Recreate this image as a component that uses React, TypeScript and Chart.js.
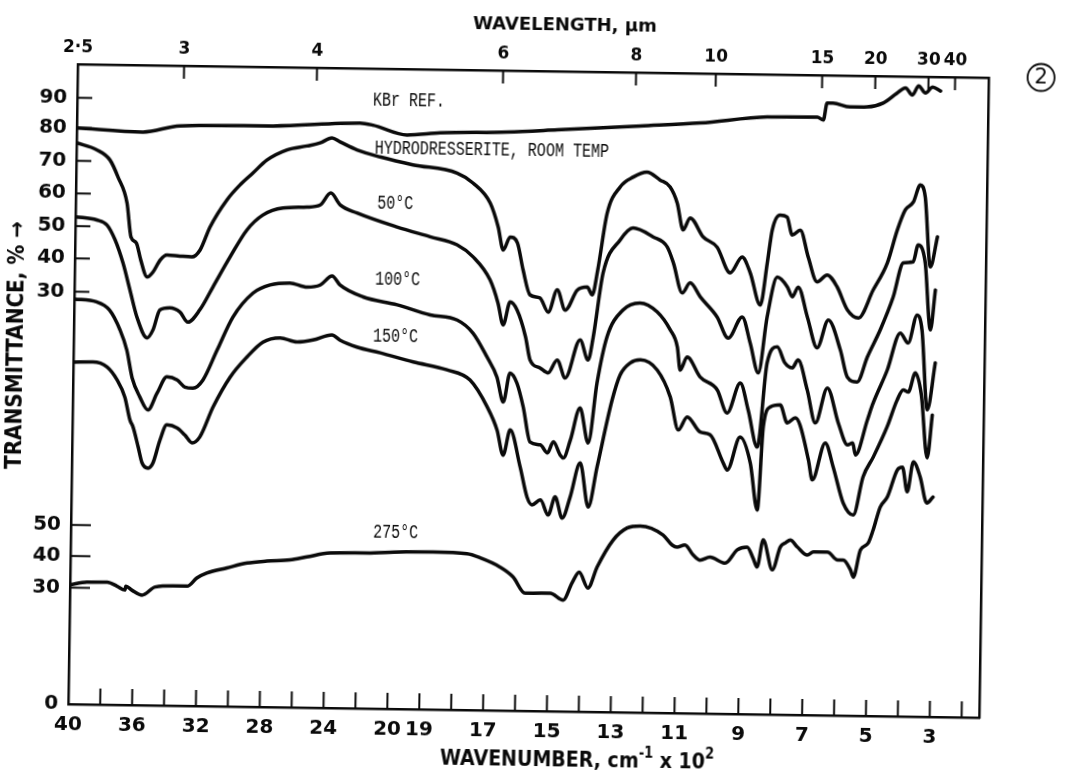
import React, { useEffect, useRef } from "react";
import { Chart, registerables } from "chart.js";

Chart.register(...registerables);

// ---- DATA (x: wavenumber in cm^-1, y: chart ordinate in transmittance-axis units) ----
const kbrReference: [number, number][] = [
  [4000, 180.1], [3585, 179.1], [3354, 181.2], [2770, 181.6], [2226, 182.9], [2144, 182.3],
  [1965, 179.4], [1861, 180.2], [1651, 180.8], [1494, 181.7], [1234, 183.3], [1046, 184.5],
  [837, 186.7], [680, 186.9], [661, 186.0], [650, 191.3], [631, 191.3], [578, 190.2],
  [524, 190.3], [474, 191.6], [432, 194.7], [405, 196.4], [383, 194.2], [364, 197.1],
  [342, 194.9], [320, 196.8], [295, 195.6],
];

const roomTemp: [number, number][] = [
  [4000, 175.4], [3872, 173.3], [3789, 170.2], [3737, 164.9], [3678, 156.8], [3650, 146.2],
  [3616, 144.4], [3587, 139.1], [3545, 133.8], [3509, 135.4], [3465, 139.2], [3423, 140.8],
  [3342, 140.5], [3267, 140.3], [3216, 142.5], [3156, 149.7], [3052, 158.3], [2972, 163.0],
  [2892, 166.8], [2806, 170.9], [2680, 174.2], [2556, 175.5], [2474, 176.5], [2400, 178.1],
  [2348, 176.9], [2242, 174.5], [2096, 172.4], [1945, 170.1], [1806, 167.7], [1756, 164.7],
  [1701, 158.5], [1675, 151.1], [1658, 143.9], [1637, 148.0], [1614, 146.2], [1595, 137.8],
  [1572, 130.0], [1541, 129.1], [1514, 124.7], [1487, 131.7], [1461, 125.4], [1424, 131.7],
  [1393, 132.7], [1377, 130.3], [1361, 138.1], [1334, 155.9], [1295, 164.1], [1254, 167.3],
  [1211, 168.9], [1170, 166.5], [1138, 164.4], [1115, 159.4], [1095, 151.0], [1074, 154.8],
  [1032, 148.9], [988, 145.8], [946, 137.8], [909, 142.8], [883, 137.9], [850, 127.9],
  [830, 141.1], [816, 151.4], [792, 156.1], [770, 155.5], [753, 149.9], [728, 151.5],
  [702, 143.1], [673, 135.4], [642, 137.6], [610, 133.9], [577, 126.8], [542, 124.3],
  [497, 133.1], [454, 141.6], [424, 152.0], [400, 158.3], [375, 160.8], [354, 166.2],
  [338, 162.4], [319, 140.6], [298, 150.0],
];

const temp50: [number, number][] = [
  [4000, 152.3], [3866, 151.4], [3802, 149.9], [3750, 145.3], [3698, 138.1], [3652, 129.7],
  [3606, 121.3], [3540, 114.8], [3504, 117.3], [3462, 123.6], [3400, 124.3], [3336, 123.0],
  [3286, 119.9], [3212, 123.8], [3132, 131.0], [3028, 140.4], [2924, 149.0], [2826, 153.7],
  [2700, 156.0], [2550, 156.4], [2468, 157.1], [2402, 160.9], [2342, 157.2], [2236, 154.8],
  [1992, 150.6], [1888, 147.7], [1803, 145.3], [1752, 141.6], [1698, 134.5], [1672, 127.3],
  [1655, 120.5], [1634, 127.7], [1612, 125.2], [1584, 116.8], [1569, 109.7], [1537, 107.2],
  [1512, 105.7], [1484, 109.8], [1458, 104.2], [1413, 116.2], [1387, 109.9], [1372, 117.1],
  [1344, 137.2], [1292, 147.6], [1252, 151.4], [1189, 148.7], [1144, 145.6], [1124, 140.6],
  [1095, 131.3], [1071, 134.5], [1038, 130.1], [985, 124.0], [949, 117.4], [906, 124.1],
  [880, 116.0], [853, 106.7], [828, 124.2], [798, 136.7], [766, 133.7], [750, 130.6],
  [732, 133.7], [702, 124.4], [670, 114.8], [636, 123.5], [597, 114.2], [574, 105.8],
  [543, 104.3], [512, 112.2], [473, 120.7], [434, 131.0], [404, 141.7], [373, 142.1],
  [358, 147.4], [335, 141.8], [316, 120.9], [302, 133.4],
];

const temp100: [number, number][] = [
  [4000, 126.6], [3860, 125.8], [3778, 123.3], [3710, 117.1], [3666, 110.9], [3630, 102.2],
  [3580, 96.3], [3528, 92.3], [3472, 97.6], [3412, 102.7], [3348, 101.8], [3298, 99.6],
  [3248, 99.3], [3186, 101.9], [3100, 111.3], [3004, 121.7], [2880, 129.3], [2774, 131.9],
  [2650, 132.6], [2542, 131.4], [2460, 132.1], [2386, 135.0], [2336, 132.2], [2190, 128.6],
  [1988, 126.3], [1884, 123.3], [1799, 121.8], [1749, 117.8], [1704, 110.4], [1672, 104.2],
  [1651, 96.4], [1631, 105.5], [1609, 102.4], [1588, 94.9], [1565, 84.0], [1533, 83.2],
  [1510, 80.7], [1492, 84.2], [1470, 80.1], [1460, 79.2], [1439, 84.8], [1410, 94.9],
  [1383, 84.0], [1358, 102.8], [1329, 117.2], [1280, 125.7], [1227, 128.0], [1173, 125.3],
  [1131, 119.7], [1108, 114.4], [1098, 107.2], [1077, 111.3], [1035, 105.1], [981, 101.2],
  [949, 94.0], [909, 103.4], [883, 95.0], [853, 83.5], [826, 109.8], [795, 114.9],
  [770, 109.9], [747, 108.4], [729, 110.9], [699, 101.6], [672, 91.3], [636, 102.3],
  [600, 91.4], [570, 84.6], [554, 85.2], [545, 81.5], [509, 92.5], [494, 97.2],
  [449, 108.2], [410, 119.8], [385, 116.7], [358, 125.5], [342, 120.8], [322, 95.9],
  [299, 110.6],
];

const temp150: [number, number][] = [
  [4000, 106.9], [3878, 107.0], [3788, 105.5], [3724, 101.5], [3674, 96.2], [3640, 89.1],
  [3620, 86.9], [3586, 80.7], [3560, 75.7], [3522, 74.1], [3492, 75.7], [3450, 82.9],
  [3408, 87.7], [3344, 86.8], [3294, 84.6], [3248, 82.2], [3200, 84.1], [3120, 93.5],
  [3016, 102.9], [2912, 109.3], [2814, 114.0], [2706, 115.4], [2600, 114.2], [2500, 114.9],
  [2382, 116.6], [2332, 115.0], [2224, 112.9], [2078, 111.2], [1935, 108.5], [1829, 106.2],
  [1756, 103.1], [1701, 94.8], [1669, 87.6], [1649, 79.8], [1628, 87.7], [1595, 76.2],
  [1572, 66.8], [1556, 64.4], [1530, 66.0], [1505, 61.3], [1484, 67.0], [1461, 60.4],
  [1437, 67.0], [1407, 77.7], [1380, 64.0], [1354, 76.5], [1310, 97.5], [1286, 105.4],
  [1255, 109.2], [1223, 110.2], [1170, 107.1], [1128, 98.8], [1101, 88.5], [1074, 92.6],
  [1032, 87.9], [1001, 87.1], [959, 78.4], [946, 76.2], [907, 86.6], [874, 78.5],
  [850, 63.8], [835, 89.8], [814, 96.1], [783, 96.8], [760, 91.2], [735, 92.8],
  [720, 90.6], [692, 79.7], [679, 73.5], [640, 85.1], [614, 77.6], [581, 66.4],
  [549, 62.7], [520, 74.7], [489, 80.9], [447, 90.4], [417, 98.8], [398, 102.0],
  [382, 101.4], [361, 107.4], [341, 100.5], [320, 80.9], [306, 94.3],
];

const temp275: [number, number][] = [
  [4000, 37.3], [3894, 38.2], [3768, 38.3], [3706, 37.1], [3656, 35.9], [3650, 37.1],
  [3612, 35.9], [3548, 34.4], [3466, 37.0], [3354, 37.4], [3266, 37.4], [3206, 40.0],
  [3144, 41.6], [3018, 43.3], [2892, 44.9], [2768, 45.6], [2624, 46.1], [2518, 47.1],
  [2374, 48.4], [2142, 48.6], [1967, 49.1], [1864, 49.2], [1757, 48.8], [1716, 47.6],
  [1653, 44.8], [1612, 41.8], [1574, 36.8], [1549, 36.8], [1495, 36.9], [1454, 34.8],
  [1427, 40.2], [1405, 43.6], [1377, 38.7], [1349, 45.3], [1300, 53.8], [1257, 57.6],
  [1216, 58.3], [1144, 55.6], [1115, 52.5], [1100, 51.9], [1075, 52.6], [1049, 49.5],
  [1027, 47.9], [996, 48.9], [948, 47.1], [911, 51.3], [880, 52.2], [861, 48.8],
  [848, 46.0], [830, 54.5], [800, 45.2], [776, 52.4], [760, 53.7], [745, 54.6],
  [723, 52.5], [691, 50.0], [672, 51.0], [628, 51.0], [596, 48.6], [578, 48.6],
  [555, 45.5], [546, 43.3], [525, 51.8], [501, 54.0], [486, 58.1], [465, 65.3],
  [443, 68.5], [413, 77.0], [397, 77.9], [381, 70.2], [363, 79.6], [341, 74.9],
  [319, 66.8], [300, 68.7],
];

const seriesList = [kbrReference, roomTemp, temp50, temp100, temp150, temp275];
const seriesNames = ["KBr REF.", "ROOM TEMP", "50°C", "100°C", "150°C", "275°C"];

// Curve captions (anchor: wavenumber, ordinate)
const captionTexts = ["KBr REF.", "HYDRODRESSERITE, ROOM TEMP", "50°C", "100°C", "150°C", "275°C"];
const captionWavenumbers = [2146, 2130, 2110, 2117, 2124, 2106];
const captionOrdinates = [190.2, 175.2, 157.8, 134.2, 116.4, 54.9];

// Bottom axis labels (wavenumber, cm^-1 x 10^2)
const wavenumberLabels = [40, 36, 32, 28, 24, 20, 19, 17, 15, 13, 11, 9, 7, 5, 3];
// Top axis (wavelength, um)
const wavelengthTicks = [2.5, 3, 4, 6, 8, 10, 15, 20, 30, 40];
const wavelengthLabels = ["2·5", "3", "4", "6", "8", "10", "15", "20", "30", "40"];
// Left axis (offset transmittance scales)
const transmittanceTickPos = [189.5, 180.1, 169.8, 159.6, 149.4, 139.3, 128.9, 56.0, 46.3, 36.4, 0];
const transmittanceLabels = ["90", "80", "70", "60", "50", "40", "30", "50", "40", "30", "0"];
const transmittanceTickLen = [15, 15, 15, 15, 15, 15, 15, 20, 20, 20, 0];

const X_MAX = 28.55; // chart divisions, ~145 cm^-1
const Y_MAX = 200;

// Grating chart: 200 cm^-1 per division above 2000, 100 cm^-1 per division below
const toDiv = (wn: number) => (wn >= 2000 ? (4000 - wn) / 200 : 10 + (2000 - wn) / 100);

const INK = "#0a0a0a";
const SANS = '"DejaVu Sans", "Liberation Sans", sans-serif';

const decorPlugin = {
  id: "decor",
  afterDraw(chart: any) {
    const { ctx, chartArea, scales } = chart;
    const xs = scales.x;
    const ys = scales.y;
    const line = (x1: number, y1: number, x2: number, y2: number) => {
      ctx.beginPath();
      ctx.moveTo(x1, y1);
      ctx.lineTo(x2, y2);
      ctx.stroke();
    };
    ctx.save();
    ctx.strokeStyle = INK;
    ctx.fillStyle = INK;
    ctx.lineWidth = 2;
    // bottom inward ticks, one per chart division
    for (let d = 1; d <= 28; d++) {
      const px = xs.getPixelForValue(d);
      line(px, chartArea.bottom, px, chartArea.bottom - 16);
    }
    // top inward ticks at wavelengths
    wavelengthTicks.forEach((l, i) => {
      if (i === 0) return;
      const px = xs.getPixelForValue(toDiv(10000 / l));
      line(px, chartArea.top, px, chartArea.top + 13);
    });
    // left inward ticks
    transmittanceTickPos.forEach((v, i) => {
      const len = transmittanceTickLen[i];
      if (!len) return;
      const py = ys.getPixelForValue(v);
      line(chartArea.left, py, chartArea.left + len, py);
    });

    // curve captions (typewriter)
    ctx.font = '15px "Liberation Mono", "DejaVu Sans Mono", monospace';
    ctx.textAlign = "left";
    ctx.textBaseline = "middle";
    captionTexts.forEach((t, i) => {
      const px = xs.getPixelForValue(toDiv(captionWavenumbers[i]));
      const py = ys.getPixelForValue(captionOrdinates[i]);
      ctx.save();
      ctx.translate(px, py);
      ctx.scale(1, 1.3);
      ctx.fillText(t, 0, 0);
      ctx.restore();
    });

    // top axis title
    ctx.textAlign = "center";
    ctx.textBaseline = "alphabetic";
    ctx.font = `bold 18px ${SANS}`;
    ctx.fillText("WAVELENGTH, µm", 559.6, 29.5);

    // bottom axis title with raised exponents
    const parts = [
      { t: "WAVENUMBER, cm", size: 19, rise: 0 },
      { t: "-1", size: 13, rise: 9 },
      { t: " x 10", size: 19, rise: 0 },
      { t: "2", size: 13, rise: 9 },
    ];
    let total = 0;
    const widths = parts.map((p) => {
      ctx.font = `bold ${p.size}px ${SANS}`;
      const w = ctx.measureText(p.t).width;
      total += w;
      return w;
    });
    ctx.save();
    ctx.translate(582.5 - total / 2, 766);
    ctx.scale(1, 1.15);
    ctx.textAlign = "left";
    let cx = 0;
    parts.forEach((p, i) => {
      ctx.font = `bold ${p.size}px ${SANS}`;
      ctx.fillText(p.t, cx, -p.rise);
      cx += widths[i];
    });
    ctx.restore();

    // left axis title
    ctx.save();
    ctx.translate(16.4, 352.7);
    ctx.rotate(-Math.PI / 2);
    ctx.scale(1, 1.12);
    ctx.textAlign = "center";
    ctx.textBaseline = "middle";
    ctx.font = `bold 20px ${SANS}`;
    ctx.fillText("TRANSMITTANCE, % →", 0, 0);
    ctx.restore();

    // circled figure number
    ctx.lineWidth = 1.8;
    ctx.beginPath();
    ctx.arc(1036.4, 70, 13.5, 0, Math.PI * 2);
    ctx.stroke();
    ctx.font = `21px ${SANS}`;
    ctx.textAlign = "center";
    ctx.textBaseline = "middle";
    ctx.fillText("2", 1036.4, 71);
    ctx.restore();
  },
};

export default function App() {
  const canvasRef = useRef<HTMLCanvasElement | null>(null);

  useEffect(() => {
    if (!canvasRef.current) return;
    const datasets = seriesList.map((s, i) => ({
      label: seriesNames[i],
      data: s.map(([wn, t]) => ({ x: toDiv(wn), y: t })),
      borderColor: INK,
      backgroundColor: INK,
      borderWidth: 3.5,
      pointRadius: 0,
      pointHoverRadius: 0,
      fill: false,
      cubicInterpolationMode: "monotone" as const,
      borderJoinStyle: "round" as const,
      borderCapStyle: "round" as const,
    }));

    const border = { display: true, color: INK, width: 2.5 };
    const grid = { display: false, drawTicks: false };
    const chart = new Chart(canvasRef.current, {
      type: "line",
      data: { datasets },
      options: {
        animation: false,
        responsive: false,
        devicePixelRatio: 1,
        events: [],
        layout: { padding: 0 },
        plugins: { legend: { display: false }, tooltip: { enabled: false } },
        scales: {
          x: {
            type: "linear",
            position: "bottom",
            min: 0,
            max: X_MAX,
            grid,
            border,
            afterBuildTicks: (scale: any) => {
              scale.ticks = wavenumberLabels.map((w) => ({ value: toDiv(w * 100) }));
            },
            afterFit: (scale: any) => {
              scale.height = 65;
            },
            ticks: {
              autoSkip: false,
              maxRotation: 0,
              minRotation: 0,
              padding: 9,
              color: INK,
              font: { family: SANS, size: 20, weight: "bold" },
              callback: (_v: any, i: number) => String(wavenumberLabels[i]),
            },
          },
          x2: {
            type: "linear",
            position: "top",
            min: 0,
            max: X_MAX,
            grid,
            border,
            afterBuildTicks: (scale: any) => {
              scale.ticks = wavelengthTicks.map((l) => ({ value: toDiv(10000 / l) }));
            },
            afterFit: (scale: any) => {
              scale.height = 71;
            },
            ticks: {
              autoSkip: false,
              maxRotation: 0,
              minRotation: 0,
              padding: 6,
              color: INK,
              font: { family: SANS, size: 17, weight: "bold" },
              callback: (_v: any, i: number) => wavelengthLabels[i],
            },
          },
          y: {
            type: "linear",
            position: "left",
            min: 0,
            max: Y_MAX,
            grid,
            border,
            afterBuildTicks: (scale: any) => {
              scale.ticks = transmittanceTickPos.map((v) => ({ value: v }));
            },
            afterFit: (scale: any) => {
              scale.width = 73;
            },
            ticks: {
              autoSkip: false,
              padding: 10,
              color: INK,
              font: { family: SANS, size: 20, weight: "bold" },
              callback: (_v: any, i: number) => transmittanceLabels[i],
            },
          },
          y2: {
            type: "linear",
            position: "right",
            min: 0,
            max: Y_MAX,
            grid,
            border,
            ticks: { display: false },
            afterFit: (scale: any) => {
              scale.width = 88;
            },
          },
        },
      } as any,
      plugins: [decorPlugin],
    });
    return () => chart.destroy();
  }, []);

  return (
    <div
      style={{
        position: "fixed",
        left: 0,
        top: 0,
        width: 1072,
        height: 776,
        overflow: "hidden",
        background: "#fff",
      }}
    >
      <div
        style={{
          width: 1072,
          height: 776,
          transform: "rotate(0.85deg)",
          transformOrigin: "536px 388px",
        }}
      >
        <canvas ref={canvasRef} width={1072} height={776} style={{ display: "block" }} />
      </div>
    </div>
  );
}
